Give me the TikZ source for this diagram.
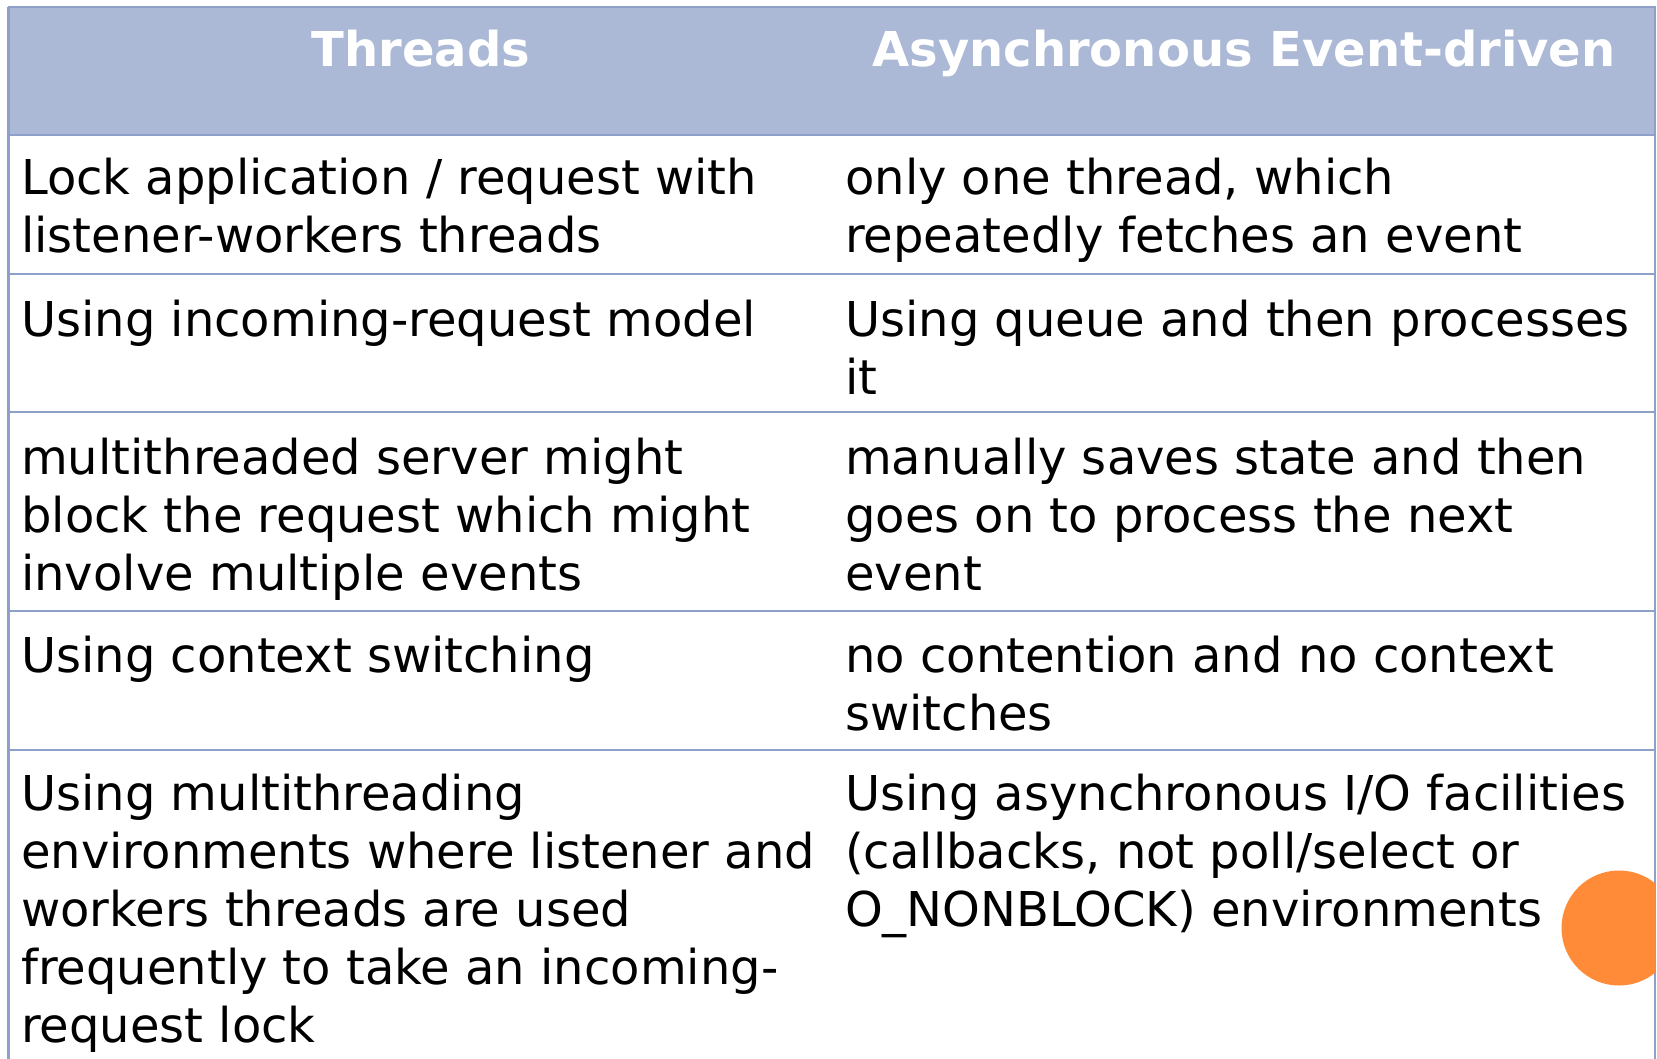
\documentclass[tikz,border=0pt]{standalone}
\usepackage{fontspec}
\setmainfont{DejaVu Sans}
\definecolor{headblue}{RGB}{172,185,214}
\definecolor{gridblue}{RGB}{142,160,200}
\definecolor{dotorange}{RGB}{255,138,56}

\begin{document}
\begin{tikzpicture}[x=1pt, y=-1pt,
  every node/.style={font=\fontsize{48}{58}\selectfont, inner sep=0pt, align=left},
  cell/.style={anchor=base west},
  head/.style={anchor=base, font=\fontsize{48}{58}\selectfont\bfseries, text=white},
  rule/.style={draw=gridblue, line width=2.5pt}]
  \useasboundingbox (0,0) rectangle (1657,1059);
  % header band
  \fill[headblue] (8,7) rectangle (1656,135);
  \node[head] (hth) at (421,67) {Threads};
  \node[head] (hev) at (1244,67) {Asynchronous Event-driven};
  % rules
  \draw[rule] (8,7) -- (1656,7);
  \foreach \y in {135,274,412,611,750} { \draw[rule] (8,\y) -- (1656,\y); }
  \draw[rule] (8.5,7) -- (8.5,1059);
  \draw[rule] (1655,7) -- (1655,1059);
  % threads column (nodes sit on the baseline of their last line)
  \node[cell] (th1) at (21,253) {Lock application / request with\\listener-workers threads};
  \node[cell] (th2) at (21,336) {Using incoming-request model};
  \node[cell] (th3) at (21,590) {multithreaded server might\\block the request which might\\involve multiple events};
  \node[cell] (th4) at (21,672) {Using context switching};
  \node[cell] (th5) at (21,1042) {Using multithreading\\environments where listener and\\workers threads are used\\frequently to take an incoming-\\request lock};
  % event-driven column
  \node[cell] (ev1) at (845,253) {only one thread, which\\repeatedly fetches an event};
  \node[cell] (ev2) at (845,394) {Using queue and then processes\\it};
  \node[cell] (ev3) at (845,590) {manually saves state and then\\goes on to process the next\\event};
  \node[cell] (ev4) at (845,730) {no contention and no context\\switches};
  \node[cell] (ev5) at (845,926) {Using asynchronous I/O facilities\\(callbacks, not poll/select or\\O\_NONBLOCK) environments};
  % orange dot at the edge
  \begin{scope}
    \clip (0,0) rectangle (1655,1059);
    \fill[dotorange] (1619,928) circle (57.5pt);
  \end{scope}
\end{tikzpicture}
\end{document}
